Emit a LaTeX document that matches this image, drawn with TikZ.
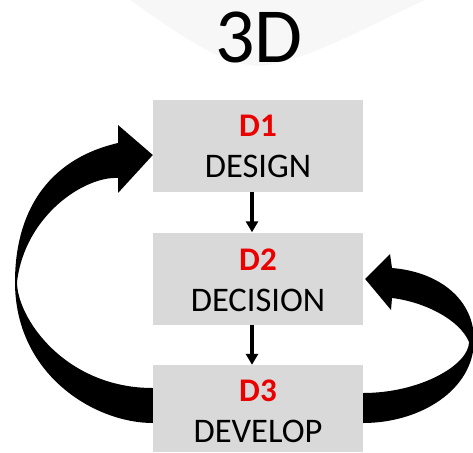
\documentclass[tikz,border=0pt]{standalone}
\usepackage{fontspec}
\setmainfont{Carlito}
\usetikzlibrary{arrows.meta,calc}
\definecolor{boxgray}{RGB}{217,217,217}
\definecolor{dred}{RGB}{235,0,0}
\tikzset{
  box/.style={fill=boxgray,minimum width=210pt,minimum height=92pt,inner sep=0pt},
  num/.style={anchor=base,text=dred,font=\fontsize{33}{33}\selectfont\bfseries},
  word/.style={anchor=base,font=\fontsize{34.5}{34.5}\selectfont},
  headline/.style={anchor=base,font=\fontsize{78}{78}\selectfont},
  flow/.style={line width=3.5pt,-{Triangle[width=12pt,length=11pt]}}
}
\begin{document}
\begin{tikzpicture}[x=1pt,y=-1pt]
  \useasboundingbox (0,0) rectangle (473,452);
  \fill[gray!6] (130,0) .. controls (180,35) and (220,64) .. (258,66) .. controls (300,64) and (360,30) .. (425,0) -- cycle;
  \node[headline] (ttl) at (259,63) {3D};
  \node[box] (d1) at (258,146) {};
  \node[box] (d2) at (258,278.5) {};
  \node[box,minimum height=87pt] (d3) at (258,408.5) {};
  \node[num] (n1) at ([yshift=-37pt]d1.north) {D1};
  \node[word] (w1) at ([yshift=-78pt]d1.north) {DESIGN};
  \node[num] (n2) at ([yshift=-38pt]d2.north) {D2};
  \node[word] (w2) at ([yshift=-79pt]d2.north) {DECISION};
  \node[num] (n3) at ([yshift=-37pt]d3.north) {D3};
  \node[word] (w3) at ([yshift=-78pt]d3.north) {DEVELOP};
  \draw[flow] ([xshift=-6pt]d1.south) -- ([xshift=-6pt]d2.north);
  \draw[flow] ([xshift=-6pt]d2.south) -- ([xshift=-6pt]d3.north);
  % back to design
  \fill ($(d3.west)+(0,14.5)$) .. controls (95,423) and (15,375) .. (15,282)
    .. controls (15,215) and (45,160) .. (118,143) -- (118,125)
    -- ($(d1.west)+(0,9)$) -- (118,193) -- (118,178)
    .. controls (85,176) and (25,215) .. (17,282)
    .. controls (17,318) and (65,388) .. ($(d3.west)+(0,-20.5)$) -- cycle;
  % back to decision
  \fill ($(d3.east)+(0,14.5)$) .. controls (420,423) and (474,390) .. (474,340)
    .. controls (474,300) and (440,272) .. (392,268) -- (390,254)
    -- ($(d2.east)+(2,0.5)$) -- (391,310) -- (392,298)
    .. controls (425,302) and (460,320) .. (469,342)
    .. controls (469,365) and (420,393) .. ($(d3.east)+(0,-15.5)$) -- cycle;
\end{tikzpicture}
\end{document}
